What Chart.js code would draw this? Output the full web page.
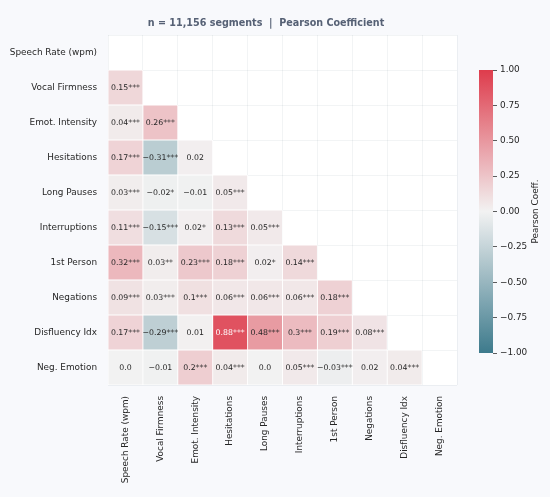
<!DOCTYPE html>
<html>
<head>
<meta charset="utf-8">
<style type="text/css">
	html, body{
		margin: 0;
		padding: 0;
		background: #f8f9fc;
	}
	.wrap{
		position: relative;
		width: 550px;
		height: 497px;
	}
	#heat{
		position: absolute;
		left: 0;
		top: 0;
	}
	#cbar{
		position: absolute;
		left: 470px;
		top: 55px;
	}
</style>
</head>
<body>
<div class="wrap">
	<canvas id="heat" width="550" height="497"></canvas>
	<canvas id="cbar" width="80" height="310"></canvas>
</div>

<script src="https://cdn.jsdelivr.net/npm/chart.js"></script>

<script type="text/javascript">

	// variables (same order on both axes)
	var labels = ['Speech Rate (wpm)', 'Vocal Firmness', 'Emot. Intensity', 'Hesitations', 'Long Pauses',
		'Interruptions', '1st Person', 'Negations', 'Disfluency Idx', 'Neg. Emotion']

	// lower triangle, row i has i values (columns 0..i-1)
	var coef = [
		[],
		[0.15],
		[0.04, 0.26],
		[0.17, -0.31, 0.02],
		[0.03, -0.02, -0.01, 0.05],
		[0.11, -0.15, 0.02, 0.13, 0.05],
		[0.32, 0.03, 0.23, 0.18, 0.02, 0.14],
		[0.09, 0.03, 0.1, 0.06, 0.06, 0.06, 0.18],
		[0.17, -0.29, 0.01, 0.88, 0.48, 0.3, 0.19, 0.08],
		[0.0, -0.01, 0.2, 0.04, 0.0, 0.05, -0.03, 0.02, 0.04]
	]

	var sig = [
		[],
		['***'],
		['***', '***'],
		['***', '***', ''],
		['***', '*', '', '***'],
		['***', '***', '*', '***', '***'],
		['***', '**', '***', '***', '*', '***'],
		['***', '***', '***', '***', '***', '***', '***'],
		['***', '***', '', '***', '***', '***', '***', '***'],
		['', '', '***', '***', '', '***', '***', '', '***']
	]

	var title = 'n = 11,156 segments  |  Pearson Coefficient'

	var FONT = "'DejaVu Sans', sans-serif"
	var lowC = [61, 122, 140]
	var midC = [242, 242, 242]
	var highC = [222, 60, 76]

	function cmap(v){
		var t = Math.max(-1, Math.min(1, v))
		var end = t < 0 ? lowC : highC
		var a = Math.abs(t)
		var c = midC.map((m, k) => Math.round(m + (end[k] - m) * a))
		return 'rgb(' + c.join(',') + ')'
	}

	function fmt(v){
		var s = String(Math.abs(v))
		if(s.indexOf('.') < 0) s += '.0'
		return (v < 0 ? '\u2212' : '') + s
	}

	// one floating-bar dataset per column
	var datasets = labels.map((c, j) => {
		return {
			label: c,
			data: labels.map((r, i) => i > j ? [j - 0.5, j + 0.5] : null),
			backgroundColor: labels.map((r, i) => i > j ? cmap(coef[i][j]) : 'rgba(0,0,0,0)'),
			borderColor: '#ffffff',
			borderWidth: 0.8,
			borderSkipped: false,
			grouped: false,
			barPercentage: 1,
			categoryPercentage: 1
		}
	})

	var bgPlugin = {
		id: 'bg',
		beforeDraw: chart => {
			var ctx = chart.ctx
			var a = chart.chartArea
			ctx.save()
			ctx.fillStyle = '#f8f9fc'
			ctx.fillRect(0, 0, chart.width, chart.height)
			ctx.fillStyle = '#ffffff'
			ctx.fillRect(a.left, a.top, a.right - a.left, a.bottom - a.top)
			ctx.fillStyle = '#566175'
			ctx.font = 'bold 9.6px ' + FONT
			ctx.textAlign = 'center'
			ctx.textBaseline = 'middle'
			ctx.fillText(title, 266, 23)
			ctx.restore()
		}
	}

	var annotPlugin = {
		id: 'annot',
		afterDatasetsDraw: chart => {
			var ctx = chart.ctx
			ctx.save()
			ctx.font = '7.8px ' + FONT
			ctx.textAlign = 'center'
			ctx.textBaseline = 'middle'
			chart.data.datasets.forEach((ds, j) => {
				var meta = chart.getDatasetMeta(j)
				meta.data.forEach((el, i) => {
					if(!(i > j)) return
					var p = el.getCenterPoint()
					var v = coef[i][j]
					ctx.fillStyle = v > 0.6 ? '#ffffff' : '#262626'
					ctx.fillText(fmt(v) + sig[i][j], p.x, p.y + 0.5)
				})
			})
			ctx.restore()
		}
	}

	new Chart(document.getElementById('heat'), {
		type: 'bar',
		data: {
			labels: labels,
			datasets: datasets
		},
		options: {
			responsive: false,
			animation: false,
			indexAxis: 'y',
			layout: {
				padding: {top: 35, right: 93, left: 0, bottom: 0}
			},
			scales: {
				y: {
					type: 'category',
					offset: true,
					grid: {
						offset: true,
						color: 'rgba(40,60,90,0.06)',
						drawTicks: false
					},
					border: {display: false},
					ticks: {
						color: '#262626',
						font: {family: FONT, size: 8.9},
						padding: 11
					},
					afterFit: s => { s.width = 108 }
				},
				x: {
					type: 'linear',
					min: -0.5,
					max: 9.5,
					position: 'bottom',
					afterBuildTicks: s => { s.ticks = labels.map((c, i) => ({value: i})) },
					grid: {display: false},
					border: {display: false},
					ticks: {
						autoSkip: false,
						maxRotation: 90,
						minRotation: 90,
						color: '#262626',
						font: {family: FONT, size: 8.9},
						padding: 3,
						callback: (v, i) => labels[i]
					},
					afterFit: s => { s.height = 112 }
				},
				xg: {
					type: 'linear',
					min: -0.5,
					max: 9.5,
					position: 'bottom',
					afterBuildTicks: s => { s.ticks = labels.concat(['']).map((c, i) => ({value: i - 0.5})) },
					grid: {
						color: 'rgba(40,60,90,0.06)',
						drawTicks: false
					},
					border: {display: false},
					ticks: {display: false},
					afterFit: s => { s.height = 0 }
				}
			},
			plugins: {
				legend: {display: false},
				title: {display: false},
				tooltip: {enabled: false}
			}
		},
		plugins: [bgPlugin, annotPlugin]
	})

	// colour bar
	var cbTitlePlugin = {
		id: 'cbtitle',
		afterDraw: chart => {
			var ctx = chart.ctx
			var a = chart.chartArea
			ctx.save()
			ctx.translate(66, (a.top + a.bottom) / 2)
			ctx.rotate(-Math.PI / 2)
			ctx.font = '8.9px ' + FONT
			ctx.fillStyle = '#262626'
			ctx.textAlign = 'center'
			ctx.textBaseline = 'middle'
			ctx.fillText('Pearson Coeff.', 0, 0)
			ctx.restore()
		}
	}

	new Chart(document.getElementById('cbar'), {
		type: 'bar',
		data: {
			labels: [''],
			datasets: [{
				data: [[-1, 1]],
				backgroundColor: c => {
					var a = c.chart.chartArea
					if(!a) return cmap(0)
					var g = c.chart.ctx.createLinearGradient(0, a.bottom, 0, a.top)
					for(var k = 0; k <= 20; k++){
						g.addColorStop(k / 20, cmap(-1 + k / 10))
					}
					return g
				},
				borderWidth: 0,
				barPercentage: 1,
				categoryPercentage: 1
			}]
		},
		options: {
			responsive: false,
			animation: false,
			layout: {
				padding: {top: 15, right: 0, left: 9, bottom: 12}
			},
			scales: {
				x: {display: false},
				y: {
					position: 'right',
					min: -1,
					max: 1,
					grid: {
						drawOnChartArea: false,
						drawTicks: true,
						tickLength: 4,
						color: '#333333',
						lineWidth: 0.8
					},
					border: {display: false},
					ticks: {
						stepSize: 0.25,
						color: '#262626',
						font: {family: FONT, size: 8.9},
						padding: 3,
						callback: v => (v < 0 ? '\u2212' : '') + Math.abs(v).toFixed(2)
					},
					afterFit: s => { s.width = 57 }
				}
			},
			plugins: {
				legend: {display: false},
				tooltip: {enabled: false}
			}
		},
		plugins: [cbTitlePlugin]
	})

</script>
</body>
</html>
